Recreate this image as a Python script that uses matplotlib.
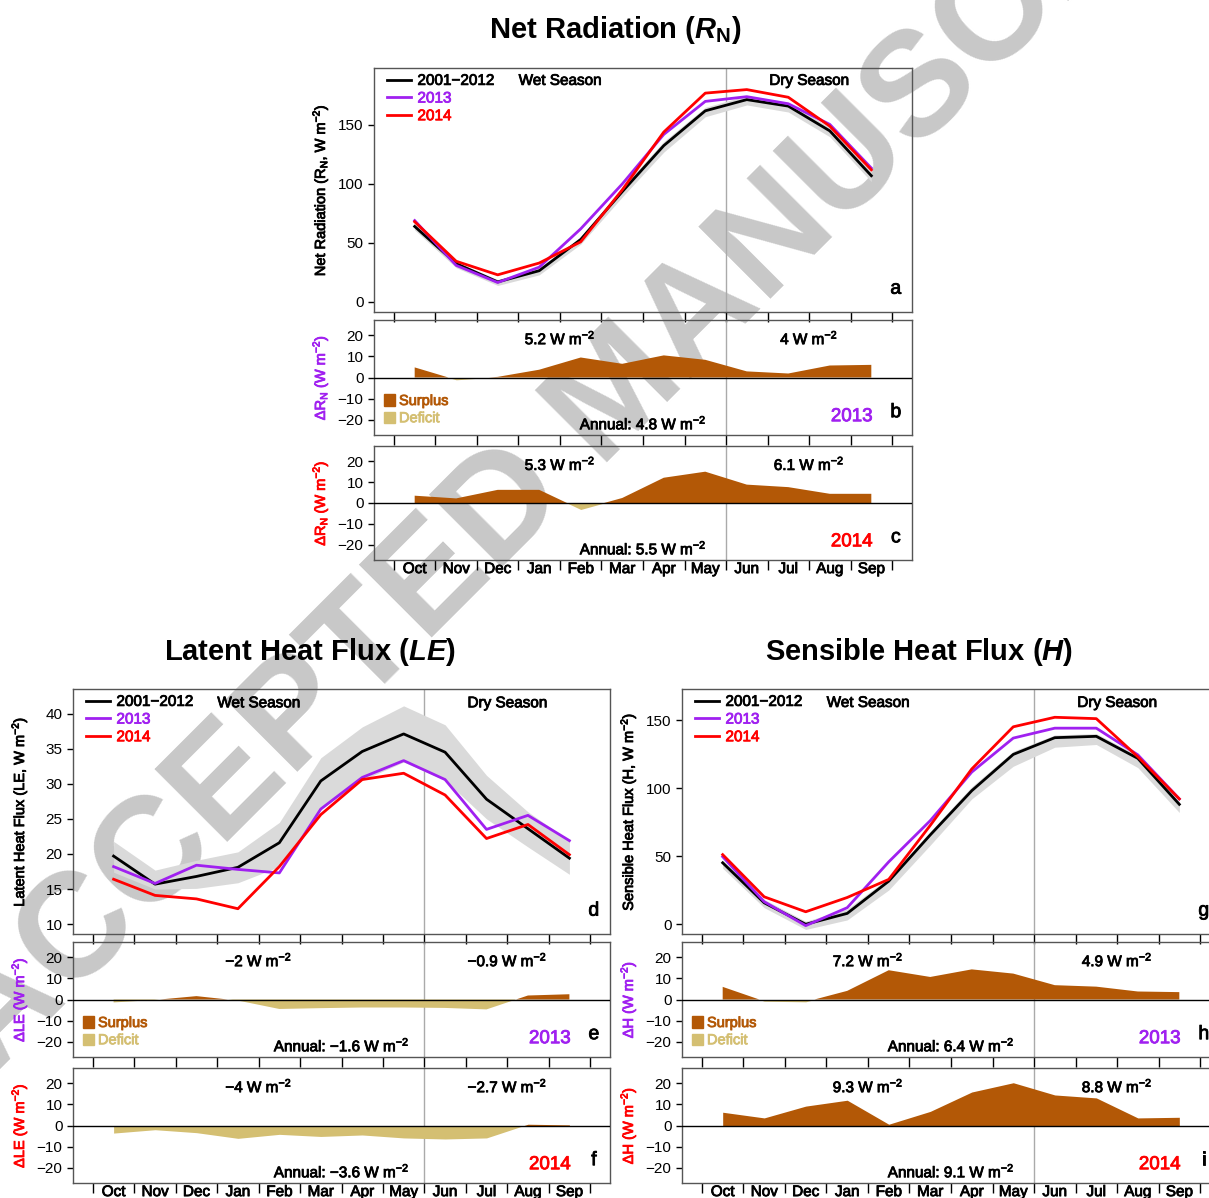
import numpy as np
import matplotlib
matplotlib.use('Agg')
import matplotlib.pyplot as plt
import matplotlib.patheffects as pe
from matplotlib.text import Text
from matplotlib.patches import Patch
from matplotlib.lines import Line2D

plt.rcParams['font.family'] = ['Liberation Sans', 'DejaVu Sans']
plt.rcParams['mathtext.fontset'] = 'custom'
plt.rcParams['mathtext.rm'] = 'Liberation Sans'
plt.rcParams['mathtext.it'] = 'Liberation Sans:italic'
plt.rcParams['mathtext.bf'] = 'Liberation Sans:bold'
plt.rcParams['mathtext.bfit'] = 'Liberation Sans:bold:italic'

# months of the water year
months = ['Oct', 'Nov', 'Dec', 'Jan', 'Feb', 'Mar', 'Apr', 'May', 'Jun', 'Jul', 'Aug', 'Sep']

# net radiation
rn_base = [64, 32.5, 17, 26.5, 53, 93.5, 132.5, 162, 171.5, 166, 145, 107]
rn_lo = [61, 29, 14, 23, 49, 89, 127, 157, 167, 161, 140, 102]
rn_hi = [67, 34, 19, 29, 55, 97, 136, 165, 175, 169, 148, 110]
rn_2013 = [69, 31, 16.5, 29.5, 62, 100, 142, 170, 174, 168, 150.5, 113.5]
rn_2014 = [68, 34.5, 23, 33, 51, 95, 144, 177, 180, 173.5, 149, 112]
drn_2013 = [4.8, -1.1, 0.3, 3.7, 9.5, 6.5, 10.5, 8.4, 2.9, 1.9, 5.7, 6.0]
drn_2014 = [3.5, 2.2, 6.3, 6.3, -3.1, 2.4, 12.1, 15.0, 8.8, 7.6, 4.4, 4.4]
rn_text_2013 = ['5.2', '4', '4.8']
rn_text_2014 = ['5.3', '6.1', '5.5']

# latent heat
le_base = [19.7, 15.7, 16.8, 18.1, 21.6, 30.4, 34.6, 37.1, 34.5, 27.8, 23.6, 19.4]
le_lo = [17.4, 15.0, 15.1, 15.9, 18.2, 26.4, 30.5, 33.1, 30.5, 25.0, 21.0, 17.1]
le_hi = [21.8, 17.7, 19.1, 20.3, 24.5, 33.7, 38.1, 41.1, 38.4, 31.2, 26.0, 21.9]
le_2013 = [18.2, 15.8, 18.4, 17.8, 17.3, 26.4, 30.9, 33.3, 30.6, 23.5, 25.5, 21.9]
le_2014 = [16.4, 14.1, 13.6, 12.2, 18.2, 25.6, 30.6, 31.5, 28.4, 22.2, 24.2, 19.9]
dle_2013 = [-1.4, -0.2, 1.6, -0.5, -4.5, -4.1, -3.8, -3.8, -4.0, -4.7, 1.9, 2.5]
dle_2014 = [-3.6, -2.0, -3.4, -6.1, -4.2, -5.2, -4.5, -5.9, -6.4, -5.9, 0.6, 0.3]
le_text_2013 = ['\u22122', '\u22120.9', '\u22121.6']
le_text_2014 = ['\u22124', '\u22122.7', '\u22123.6']

# sensible heat
h_base = [45, 15.6, -0.2, 7.8, 31.5, 65.5, 98, 124.7, 137, 138, 121.8, 88]
h_lo = [41, 12, -4, 3, 25, 58, 92, 116, 130, 132, 115, 82]
h_hi = [47, 18, 2, 11, 34, 68, 101, 127, 139, 140, 124, 90]
h_2013 = [49.5, 16.4, -1.2, 12, 45.7, 76, 111.7, 136.7, 144, 144, 124.4, 92]
h_2014 = [51, 20, 9, 19.5, 32.8, 72.5, 114, 145, 152, 151, 123, 92]
dh_2013 = [6.0, -0.8, -1.1, 4.1, 13.9, 10.7, 14.3, 12.3, 6.8, 6.1, 3.8, 3.5]
dh_2014 = [6.3, 3.6, 9.2, 12.0, 0.6, 6.7, 15.9, 20.3, 14.5, 13.1, 3.6, 3.9]
h_text_2013 = ['7.2', '4.9', '6.4']
h_text_2014 = ['9.3', '8.8', '9.1']

purple = '#A020F0'
red = '#FF0000'
surplus = '#B35806'
deficit = '#D4BF72'
band = '#DADADA'
spine_c = '#555555'

W, H = 1209, 1198
x = np.arange(1, 13)

fig = plt.figure(figsize=(W / 100, H / 100), dpi=100)

# watermark behind everything
mark = fig.text(620 / W, 1 - 395 / H, 'ACCEPTED MANUSCRIPT', rotation=45, fontsize=107,
                weight='bold', color='#C8C8C8', ha='center', va='center',
                rotation_mode='anchor', zorder=-5)


def make_ax(left, top, width, height):
    ax = fig.add_axes([left / W, 1 - (top + height) / H, width / W, height / H])
    ax.patch.set_visible(False)
    for s in ax.spines.values():
        s.set_color(spine_c)
        s.set_linewidth(1)
    ax.set_xlim(0.02, 12.98)
    ax.set_xticks(np.arange(0.5, 13, 1))
    ax.set_xticklabels([])
    ax.set_xticks(x, minor=True)
    ax.tick_params(axis='x', which='major', direction='out', length=7, width=1)
    ax.tick_params(axis='x', which='minor', length=0, pad=1.5, labelsize=11)
    ax.tick_params(axis='y', direction='out', length=4.5, width=1, labelsize=11, pad=3)
    ax.axvline(8.5, color='#AAAAAA', lw=1, zorder=1)
    return ax


def main_panel(ax, base, lo, hi, y13, y14, ylim, yticks, ylabel, letter, season_y):
    ax.fill_between(x, lo, hi, color=band, lw=0, zorder=1)
    ax.plot(x, base, color='black', lw=2, zorder=3)
    ax.plot(x, y13, color=purple, lw=2, zorder=4)
    ax.plot(x, y14, color=red, lw=2, zorder=5)
    ax.set_ylim(ylim)
    ax.set_yticks(yticks)
    ax.set_ylabel(ylabel, fontsize=10.5)
    ax.yaxis.set_label_coords(-0.08, 0.5)
    ax.set_xticklabels([], minor=True)
    handles = [Line2D([], [], color=c, lw=2) for c in ['black', purple, red]]
    ax.legend(handles, ['2001\u22122012', '2013', '2014'], loc='upper left',
              bbox_to_anchor=(0.024, 0.976), frameon=False, handlelength=1.6,
              handletextpad=0.4, labelspacing=0.24, borderpad=0, borderaxespad=0,
              fontsize=11, labelcolor=['black', purple, red])
    ax.text(4.5, season_y, 'Wet Season', fontsize=11, ha='center', va='baseline')
    ax.text(10.5, season_y, 'Dry Season', fontsize=11, ha='center', va='baseline')
    ax.text(0.97, 0.075, letter, transform=ax.transAxes, fontsize=14, ha='center',
            va='baseline')


def delta_panel(ax, d, ycol, ylabel, year, letter, texts, legend, bottom):
    d = np.array(d)
    ax.fill_between(x, d, 0, where=d >= 0, interpolate=True, color=surplus, lw=0, zorder=2)
    ax.fill_between(x, d, 0, where=d <= 0, interpolate=True, color=deficit, lw=0, zorder=2)
    ax.axhline(0, color='black', lw=1, zorder=3)
    ax.set_ylim(-27.3, 27.3)
    ax.set_yticks([-20, -10, 0, 10, 20])
    ax.set_ylabel(ylabel, fontsize=10.5, color=ycol)
    ax.yaxis.set_label_coords(-0.08, 0.5)
    if bottom:
        ax.set_xticklabels(months, minor=True)
    else:
        ax.set_xticklabels([], minor=True)
    ax.text(4.5, 0.79, texts[0] + ' W m$^{-2}$', transform=ax.get_xaxis_transform(),
            fontsize=11, ha='center', va='baseline')
    ax.text(10.5, 0.79, texts[1] + ' W m$^{-2}$', transform=ax.get_xaxis_transform(),
            fontsize=11, ha='center', va='baseline')
    ax.text(6.5, 0.05, 'Annual: ' + texts[2] + ' W m$^{-2}$',
            transform=ax.get_xaxis_transform(), fontsize=11, ha='center', va='baseline')
    ax.text(0.888, 0.12, year, transform=ax.transAxes, fontsize=13.5, color=ycol,
            ha='center', va='baseline')
    ax.text(0.97, 0.155, letter, transform=ax.transAxes, fontsize=14, ha='center',
            va='baseline')
    if legend:
        ax.legend([Patch(color=surplus), Patch(color=deficit)], ['Surplus', 'Deficit'],
                  loc='lower left', bbox_to_anchor=(0.018, 0.085), frameon=False,
                  handlelength=0.8, handleheight=0.8, handletextpad=0.25,
                  labelspacing=0.22, borderpad=0, borderaxespad=0, fontsize=10.5,
                  labelcolor=[surplus, deficit])


# net radiation group
ax_a = make_ax(374, 68, 538, 244)
main_panel(ax_a, rn_base, rn_lo, rn_hi, rn_2013, rn_2014, (-8.5, 198.3), [0, 50, 100, 150],
           'Net Radiation (R$_{\\mathrm{N}}$, W m$^{-2}$)', 'a', 184)
ax_b = make_ax(374, 320, 538, 115)
delta_panel(ax_b, drn_2013, purple, '\u0394R$_{\\mathrm{N}}$ (W m$^{-2}$)', '2013', 'b',
            rn_text_2013, True, False)
ax_c = make_ax(374, 446, 538, 114)
delta_panel(ax_c, drn_2014, red, '\u0394R$_{\\mathrm{N}}$ (W m$^{-2}$)', '2014', 'c',
            rn_text_2014, False, True)

# latent heat group
ax_d = make_ax(73, 689, 537, 245)
main_panel(ax_d, le_base, le_lo, le_hi, le_2013, le_2014, (8.6, 43.5), [10, 15, 20, 25, 30, 35, 40],
           'Latent Heat Flux (LE, W m$^{-2}$)', 'd', 40.9)
ax_e = make_ax(73, 942, 537, 115)
delta_panel(ax_e, dle_2013, purple, '\u0394LE (W m$^{-2}$)', '2013', 'e',
            le_text_2013, True, False)
ax_f = make_ax(73, 1068, 537, 115)
delta_panel(ax_f, dle_2014, red, '\u0394LE (W m$^{-2}$)', '2014', 'f',
            le_text_2014, False, True)

# sensible heat group
ax_g = make_ax(682, 689, 538, 245)
main_panel(ax_g, h_base, h_lo, h_hi, h_2013, h_2014, (-7.35, 172.8), [0, 50, 100, 150],
           'Sensible Heat Flux (H, W m$^{-2}$)', 'g', 159.6)
ax_h = make_ax(682, 942, 538, 115)
delta_panel(ax_h, dh_2013, purple, '\u0394H (W m$^{-2}$)', '2013', 'h',
            h_text_2013, True, False)
ax_i = make_ax(682, 1068, 538, 115)
delta_panel(ax_i, dh_2014, red, '\u0394H (W m$^{-2}$)', '2014', 'i',
            h_text_2014, False, True)

# thicken the thin text a little, like the original rendering
for t in fig.findobj(Text):
    if t is not mark and t.get_text():
        t.set_path_effects([pe.withStroke(linewidth=0.6, foreground=t.get_color())])

# group titles
fig.text(615 / W, 1 - 30 / H, 'Net Radiation ($\\mathbfit{R}_{\\mathbf{N}}$)',
         fontsize=21, weight='bold', ha='center', va='center')
fig.text(310 / W, 1 - 652 / H, 'Latent Heat Flux ($\\mathbfit{LE}$)',
         fontsize=21, weight='bold', ha='center', va='center')
fig.text(919 / W, 1 - 652 / H, 'Sensible Heat Flux ($\\mathbfit{H}$)',
         fontsize=21, weight='bold', ha='center', va='center')

fig.savefig('out.png', dpi=100)
